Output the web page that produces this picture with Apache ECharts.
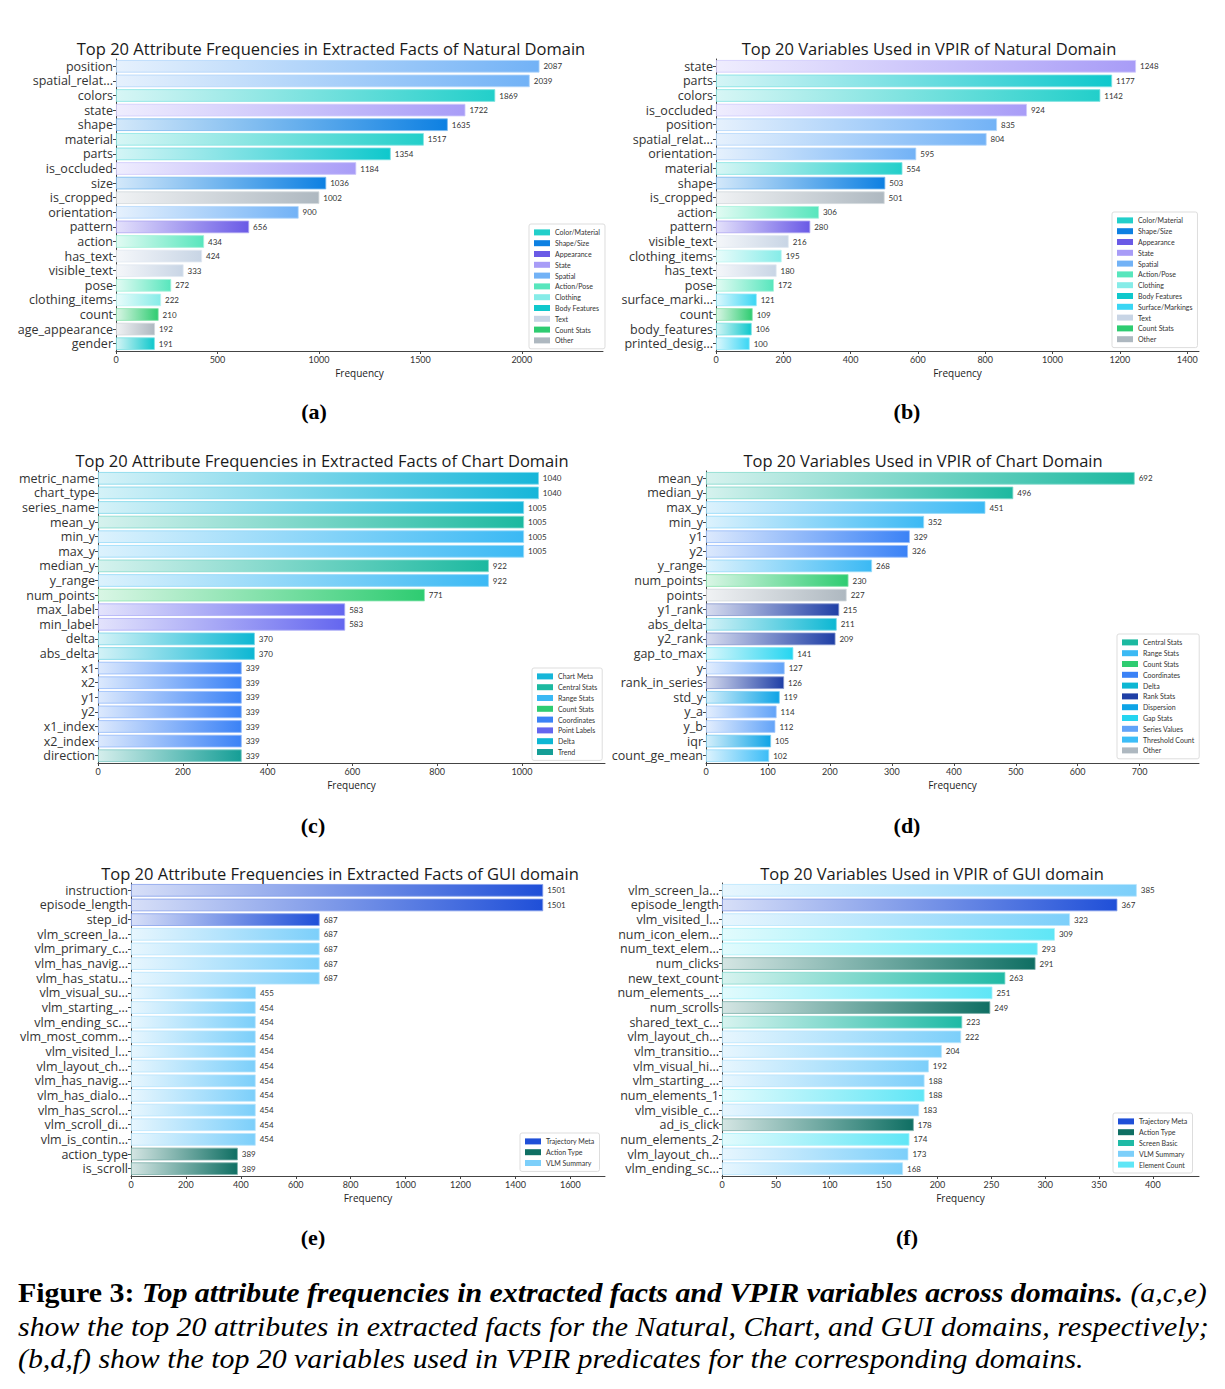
<!DOCTYPE html>
<html>
<head>
<meta charset="utf-8">
<script src="https://cdn.jsdelivr.net/npm/echarts@6/dist/echarts.min.js"></script>
<style>
  body { margin: 0; background: #fff; }
  #chart { position: absolute; left: 0; top: 0; width: 1225px; height: 1389px; }
  .cap { position: absolute; left: 18px; white-space: nowrap; font-family: 'Liberation Serif', 'Times New Roman', serif;
         font-size: 28px; line-height: 33px; transform-origin: 0 0; color: #000; }
</style>
</head>
<body>
<div id="chart"></div>
<div class="cap" id="cap1" style="top:1276px"><b>Figure 3:</b> <b><i>Top attribute frequencies in extracted facts and VPIR variables across domains.</i></b> <i>(a,c,e)</i></div>
<div class="cap" id="cap2" style="top:1310px"><i>show the top 20 attributes in extracted facts for the Natural, Chart, and GUI domains, respectively;</i></div>
<div class="cap" id="cap3" style="top:1342px"><i>(b,d,f) show the top 20 variables used in VPIR predicates for the corresponding domains.</i></div>
<script>
// 数据: 每个子图一组 labels / values / groups

// (a) natural, extracted facts
const natFactLabels = ['position', 'spatial_relat...', 'colors', 'state', 'shape', 'material', 'parts', 'is_occluded', 'size', 'is_cropped',
  'orientation', 'pattern', 'action', 'has_text', 'visible_text', 'pose', 'clothing_items', 'count', 'age_appearance', 'gender'];
const natFactValues = [2087, 2039, 1869, 1722, 1635, 1517, 1354, 1184, 1036, 1002, 900, 656, 434, 424, 333, 272, 222, 210, 192, 191];
const natFactGroups = ['Spatial', 'Spatial', 'Color/Material', 'State', 'Shape/Size', 'Color/Material', 'Body Features', 'State', 'Shape/Size', 'Other',
  'Spatial', 'Appearance', 'Action/Pose', 'Text', 'Text', 'Action/Pose', 'Clothing', 'Count Stats', 'Other', 'Body Features'];
const natFactTicks = [0, 500, 1000, 1500, 2000];
const natFactLegend = ['Color/Material', 'Shape/Size', 'Appearance', 'State', 'Spatial', 'Action/Pose', 'Clothing', 'Body Features', 'Text', 'Count Stats', 'Other'];

// (b) natural, VPIR variables
const natVarLabels = ['state', 'parts', 'colors', 'is_occluded', 'position', 'spatial_relat...', 'orientation', 'material', 'shape', 'is_cropped',
  'action', 'pattern', 'visible_text', 'clothing_items', 'has_text', 'pose', 'surface_marki...', 'count', 'body_features', 'printed_desig...'];
const natVarValues = [1248, 1177, 1142, 924, 835, 804, 595, 554, 503, 501, 306, 280, 216, 195, 180, 172, 121, 109, 106, 100];
const natVarGroups = ['State', 'Body Features', 'Color/Material', 'State', 'Spatial', 'Spatial', 'Spatial', 'Color/Material', 'Shape/Size', 'Other',
  'Action/Pose', 'Appearance', 'Text', 'Clothing', 'Text', 'Action/Pose', 'Surface/Markings', 'Count Stats', 'Body Features', 'Surface/Markings'];
const natVarTicks = [0, 200, 400, 600, 800, 1000, 1200, 1400];
const natVarLegend = ['Color/Material', 'Shape/Size', 'Appearance', 'State', 'Spatial', 'Action/Pose', 'Clothing', 'Body Features', 'Surface/Markings', 'Text', 'Count Stats', 'Other'];

// (c) chart, extracted facts
const chartFactLabels = ['metric_name', 'chart_type', 'series_name', 'mean_y', 'min_y', 'max_y', 'median_y', 'y_range', 'num_points', 'max_label',
  'min_label', 'delta', 'abs_delta', 'x1', 'x2', 'y1', 'y2', 'x1_index', 'x2_index', 'direction'];
const chartFactValues = [1040, 1040, 1005, 1005, 1005, 1005, 922, 922, 771, 583, 583, 370, 370, 339, 339, 339, 339, 339, 339, 339];
const chartFactGroups = ['Chart Meta', 'Chart Meta', 'Chart Meta', 'Central Stats', 'Range Stats', 'Range Stats', 'Central Stats', 'Range Stats', 'Count Stats', 'Point Labels',
  'Point Labels', 'Delta', 'Delta', 'Coordinates', 'Coordinates', 'Coordinates', 'Coordinates', 'Coordinates', 'Coordinates', 'Trend'];
const chartFactTicks = [0, 200, 400, 600, 800, 1000];
const chartFactLegend = ['Chart Meta', 'Central Stats', 'Range Stats', 'Count Stats', 'Coordinates', 'Point Labels', 'Delta', 'Trend'];

// (d) chart, VPIR variables
const chartVarLabels = ['mean_y', 'median_y', 'max_y', 'min_y', 'y1', 'y2', 'y_range', 'num_points', 'points', 'y1_rank',
  'abs_delta', 'y2_rank', 'gap_to_max', 'y', 'rank_in_series', 'std_y', 'y_a', 'y_b', 'iqr', 'count_ge_mean'];
const chartVarValues = [692, 496, 451, 352, 329, 326, 268, 230, 227, 215, 211, 209, 141, 127, 126, 119, 114, 112, 105, 102];
const chartVarGroups = ['Central Stats', 'Central Stats', 'Range Stats', 'Range Stats', 'Coordinates', 'Coordinates', 'Range Stats', 'Count Stats', 'Other', 'Rank Stats',
  'Delta', 'Rank Stats', 'Gap Stats', 'Series Values', 'Rank Stats', 'Dispersion', 'Series Values', 'Series Values', 'Dispersion', 'Threshold Count'];
const chartVarTicks = [0, 100, 200, 300, 400, 500, 600, 700];
const chartVarLegend = ['Central Stats', 'Range Stats', 'Count Stats', 'Coordinates', 'Delta', 'Rank Stats', 'Dispersion', 'Gap Stats', 'Series Values', 'Threshold Count', 'Other'];

// (e) GUI, extracted facts
const guiFactLabels = ['instruction', 'episode_length', 'step_id', 'vlm_screen_la...', 'vlm_primary_c...', 'vlm_has_navig...', 'vlm_has_statu...', 'vlm_visual_su...', 'vlm_starting_...', 'vlm_ending_sc...',
  'vlm_most_comm...', 'vlm_visited_l...', 'vlm_layout_ch...', 'vlm_has_navig...', 'vlm_has_dialo...', 'vlm_has_scrol...', 'vlm_scroll_di...', 'vlm_is_contin...', 'action_type', 'is_scroll'];
const guiFactValues = [1501, 1501, 687, 687, 687, 687, 687, 455, 454, 454, 454, 454, 454, 454, 454, 454, 454, 454, 389, 389];
const guiFactGroups = ['Trajectory Meta', 'Trajectory Meta', 'Trajectory Meta', 'VLM Summary', 'VLM Summary', 'VLM Summary', 'VLM Summary', 'VLM Summary', 'VLM Summary', 'VLM Summary',
  'VLM Summary', 'VLM Summary', 'VLM Summary', 'VLM Summary', 'VLM Summary', 'VLM Summary', 'VLM Summary', 'VLM Summary', 'Action Type', 'Action Type'];
const guiFactTicks = [0, 200, 400, 600, 800, 1000, 1200, 1400, 1600];
const guiFactLegend = ['Trajectory Meta', 'Action Type', 'VLM Summary'];

// (f) GUI, VPIR variables
const guiVarLabels = ['vlm_screen_la...', 'episode_length', 'vlm_visited_l...', 'num_icon_elem...', 'num_text_elem...', 'num_clicks', 'new_text_count', 'num_elements_...', 'num_scrolls', 'shared_text_c...',
  'vlm_layout_ch...', 'vlm_transitio...', 'vlm_visual_hi...', 'vlm_starting_...', 'num_elements_1', 'vlm_visible_c...', 'ad_is_click', 'num_elements_2', 'vlm_layout_ch...', 'vlm_ending_sc...'];
const guiVarValues = [385, 367, 323, 309, 293, 291, 263, 251, 249, 223, 222, 204, 192, 188, 188, 183, 178, 174, 173, 168];
const guiVarGroups = ['VLM Summary', 'Trajectory Meta', 'VLM Summary', 'Element Count', 'Element Count', 'Action Type', 'Screen Basic', 'Element Count', 'Action Type', 'Screen Basic',
  'VLM Summary', 'VLM Summary', 'VLM Summary', 'VLM Summary', 'Element Count', 'VLM Summary', 'Action Type', 'Element Count', 'VLM Summary', 'VLM Summary'];
const guiVarTicks = [0, 50, 100, 150, 200, 250, 300, 350, 400];
const guiVarLegend = ['Trajectory Meta', 'Action Type', 'Screen Basic', 'VLM Summary', 'Element Count'];

// 颜色
const groupColors = {
  'Color/Material': '#22cfca', 'Shape/Size': '#0d80e2', 'Appearance': '#6a5ae6', 'State': '#a89cf7',
  'Spatial': '#72b2f6', 'Action/Pose': '#58e6bd', 'Clothing': '#86ece8', 'Body Features': '#0fc8cc',
  'Surface/Markings': '#3ad6f4', 'Text': '#c8d5e5', 'Count Stats': '#2ecc71', 'Other': '#aeb8c0',
  'Chart Meta': '#16b6d9', 'Central Stats': '#1cb9a0', 'Range Stats': '#3bb9f4', 'Coordinates': '#3b82f6',
  'Point Labels': '#6466ef', 'Delta': '#0db7d3', 'Trend': '#159e96', 'Rank Stats': '#1f3fa6',
  'Dispersion': '#0ea4e6', 'Gap Stats': '#25d5f0', 'Series Values': '#62a3f8', 'Threshold Count': '#3cbdf7',
  'Trajectory Meta': '#1f4fd8', 'Action Type': '#0f6f63', 'Screen Basic': '#1fbaa5', 'VLM Summary': '#7ccffa', 'Element Count': '#5fe6f6'
};

const panels = [
  { title: 'Top 20 Attribute Frequencies in Extracted Facts of Natural Domain', tag: '(a)', labels: natFactLabels, values: natFactValues, groups: natFactGroups, ticks: natFactTicks, legend: natFactLegend,
    grid: [116, 59, 487, 292], titlePos: [331, 48], tagPos: [314, 411], legendPos: [529, 224] },
  { title: 'Top 20 Variables Used in VPIR of Natural Domain', tag: '(b)', labels: natVarLabels, values: natVarValues, groups: natVarGroups, ticks: natVarTicks, legend: natVarLegend,
    grid: [716, 59, 483, 292], titlePos: [929, 48], tagPos: [907, 411], legendPos: [1112, 212] },
  { title: 'Top 20 Attribute Frequencies in Extracted Facts of Chart Domain', tag: '(c)', labels: chartFactLabels, values: chartFactValues, groups: chartFactGroups, ticks: chartFactTicks, legend: chartFactLegend,
    grid: [98, 471, 507, 292], titlePos: [322, 460], tagPos: [313, 825], legendPos: [532, 668] },
  { title: 'Top 20 Variables Used in VPIR of Chart Domain', tag: '(d)', labels: chartVarLabels, values: chartVarValues, groups: chartVarGroups, ticks: chartVarTicks, legend: chartVarLegend,
    grid: [706, 471, 493, 292], titlePos: [923, 460], tagPos: [907, 825], legendPos: [1117, 634] },
  { title: 'Top 20 Attribute Frequencies in Extracted Facts of GUI domain', tag: '(e)', labels: guiFactLabels, values: guiFactValues, groups: guiFactGroups, ticks: guiFactTicks, legend: guiFactLegend,
    grid: [131, 883, 474, 293], titlePos: [340, 873], tagPos: [313, 1237], legendPos: [520, 1133] },
  { title: 'Top 20 Variables Used in VPIR of GUI domain', tag: '(f)', labels: guiVarLabels, values: guiVarValues, groups: guiVarGroups, ticks: guiVarTicks, legend: guiVarLegend,
    grid: [722, 883, 477, 293], titlePos: [932, 873], tagPos: [907, 1237], legendPos: [1113, 1113] }
];

function tint(hex, t) {
  const n = parseInt(hex.slice(1), 16);
  const r = (n >> 16) & 255, g = (n >> 8) & 255, b = n & 255;
  const m = c => Math.round(c + (255 - c) * t);
  return 'rgb(' + m(r) + ',' + m(g) + ',' + m(b) + ')';
}

function gradBar(color) {
  return new echarts.graphic.LinearGradient(0, 0, 1, 0, [
    { offset: 0, color: tint(color, 0.82) },
    { offset: 1, color: color }
  ]);
}

const myChart = echarts.init(document.getElementById('chart'), null, { renderer: 'svg' });

const grids = [], xAxes = [], yAxes = [], series = [], legends = [], texts = [];

panels.forEach(function (p, i) {
  grids.push({ left: p.grid[0], top: p.grid[1], width: p.grid[2], height: p.grid[3] });
  xAxes.push({
    gridIndex: i, type: 'value', min: 0, max: Math.max.apply(null, p.values) * 1.15,
    axisLine: { show: true, lineStyle: { color: '#444' } },
    axisTick: { show: true, length: 3, customValues: p.ticks, lineStyle: { color: '#444' } },
    axisLabel: { customValues: p.ticks, fontSize: 9, color: '#333', margin: 4, formatter: v => String(v) },
    splitLine: { show: false },
    name: 'Frequency', nameLocation: 'middle', nameGap: 17,
    nameTextStyle: { fontSize: 10, color: '#222', fontFamily: 'Open Sans' }
  });
  yAxes.push({
    gridIndex: i, type: 'category', inverse: true, data: p.labels,
    axisLine: { show: true, lineStyle: { color: '#444' } },
    axisTick: { show: true, length: 3, alignWithLabel: true, lineStyle: { color: '#444' } },
    axisLabel: { fontSize: 12.5, color: '#333', margin: 3, interval: 0, fontFamily: 'Open Sans' }
  });
  series.push({
    type: 'bar', xAxisIndex: i, yAxisIndex: i, stack: 'p' + i, barCategoryGap: '14%',
    data: p.values.map(function (v, j) {
      const c = groupColors[p.groups[j]];
      return { value: v, itemStyle: { color: gradBar(c), borderColor: tint(c, 0.45), borderWidth: 0.8 } };
    }),
    label: { show: true, position: 'right', distance: 4, fontSize: 8, color: '#333' },
    silent: true
  });
  // 图例用空系列
  p.legend.forEach(function (name) {
    series.push({ type: 'bar', name: name, xAxisIndex: i, yAxisIndex: i, stack: 'p' + i, data: [], itemStyle: { color: groupColors[name] } });
  });
  legends.push({
    orient: 'vertical', left: p.legendPos[0], top: p.legendPos[1], data: p.legend,
    icon: 'rect', itemWidth: 16, itemHeight: 6, itemGap: 2,
    textStyle: { fontSize: 7, color: '#333', lineHeight: 8.8 },
    padding: [4, 5], borderColor: '#ddd', borderWidth: 1, borderRadius: 2, backgroundColor: '#fff',
    selectedMode: false
  });
  texts.push({
    type: 'text', x: p.titlePos[0], y: p.titlePos[1],
    style: { text: p.title, font: '16.5px "Open Sans"', fill: '#1a1a1a', align: 'center', verticalAlign: 'middle', textAlign: 'center', textVerticalAlign: 'middle' }
  });
  texts.push({
    type: 'text', x: p.tagPos[0], y: p.tagPos[1],
    style: { text: p.tag, font: 'bold 22px "Liberation Serif"', fill: '#000', align: 'center', verticalAlign: 'middle', textAlign: 'center', textVerticalAlign: 'middle' }
  });
});

const option = {
  animation: false,
  textStyle: { fontFamily: 'Lato' },
  grid: grids,
  xAxis: xAxes,
  yAxis: yAxes,
  series: series,
  legend: legends,
  graphic: texts
};

option && myChart.setOption(option);

// 图注按宽度压缩
[['cap1', 1189], ['cap2', 1191], ['cap3', 1066]].forEach(function (c) {
  const el = document.getElementById(c[0]);
  el.style.transform = 'scaleX(' + (c[1] / el.offsetWidth) + ')';
});
</script>
</body>
</html>
